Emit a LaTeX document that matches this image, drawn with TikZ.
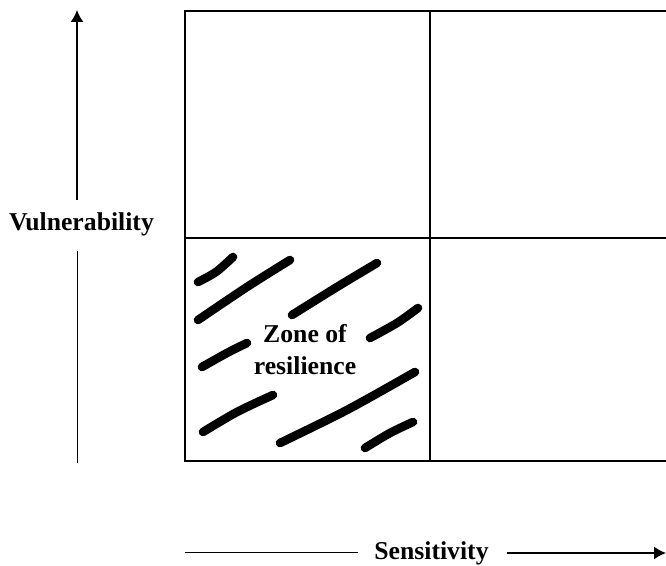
\documentclass[tikz,border=0pt]{standalone}
\usepackage{fontspec}
\setmainfont{Liberation Serif}
\usetikzlibrary{arrows.meta}
\begin{document}
\begin{tikzpicture}[x=0.5pt,y=-0.5pt,
  lbl/.style={font=\fontsize{12.85}{16}\selectfont\bfseries, inner sep=0pt, align=center},
  frame/.style={line width=1pt},
  divider/.style={line width=0.8pt},
  axisthin/.style={line width=0.5pt},
  axisarrow/.style={line width=0.8pt, -{Latex[length=6pt,width=6.5pt]}},
  hatch/.style={line width=4.3pt, line cap=round, line join=round}]
\useasboundingbox (0,0) rectangle (666,566);
\begin{scope}
\clip (0,0) rectangle (666,566);
% grid
\draw[frame] (700,11) -- (185,11) -- (185,461) -- (700,461);
\draw[divider] (185,238) -- (700,238);
\draw[divider] (430,11) -- (430,461);
% hatching
\draw[hatch] plot[smooth] coordinates {(198,282) (216,272) (233,257)};
\draw[hatch] plot[smooth] coordinates {(198,320) (247,287) (290,260)};
\draw[hatch] plot[smooth] coordinates {(292,315) (337,287) (377,263)};
\draw[hatch] plot[smooth] coordinates {(370,338) (397,323) (418,308)};
\draw[hatch] plot[smooth] coordinates {(202,367) (227,353) (247,343)};
\draw[hatch] plot[smooth] coordinates {(203,432) (237,412) (273,395)};
\draw[hatch] plot[smooth] coordinates {(280,443) (347,410) (415,372)};
\draw[hatch] plot[smooth] coordinates {(365,448) (390,433) (413,422)};
\end{scope}
\node[lbl, fill=white, inner sep=1pt] (zone) at (305,350) {Zone of\\resilience};
% vertical axis
\node[lbl] (vul) at (81.5,224) {Vulnerability};
\coordinate (vtop) at (77,10);
\coordinate (vup) at (77,200);
\coordinate (vlow) at (77,251);
\coordinate (vbot) at (77,463);
\draw[axisarrow] (vup) -- (vtop);
\draw[axisthin] (vlow) -- (vbot);
% horizontal axis
\node[lbl] (sens) at (431.5,553) {Sensitivity};
\coordinate (hleft) at (185,553);
\coordinate (hl2) at (358,553);
\coordinate (hr1) at (507,553);
\coordinate (hright) at (666,553);
\draw[axisthin] (hleft) -- (hl2);
\draw[axisarrow] (hr1) -- (hright);
\end{tikzpicture}
\end{document}
